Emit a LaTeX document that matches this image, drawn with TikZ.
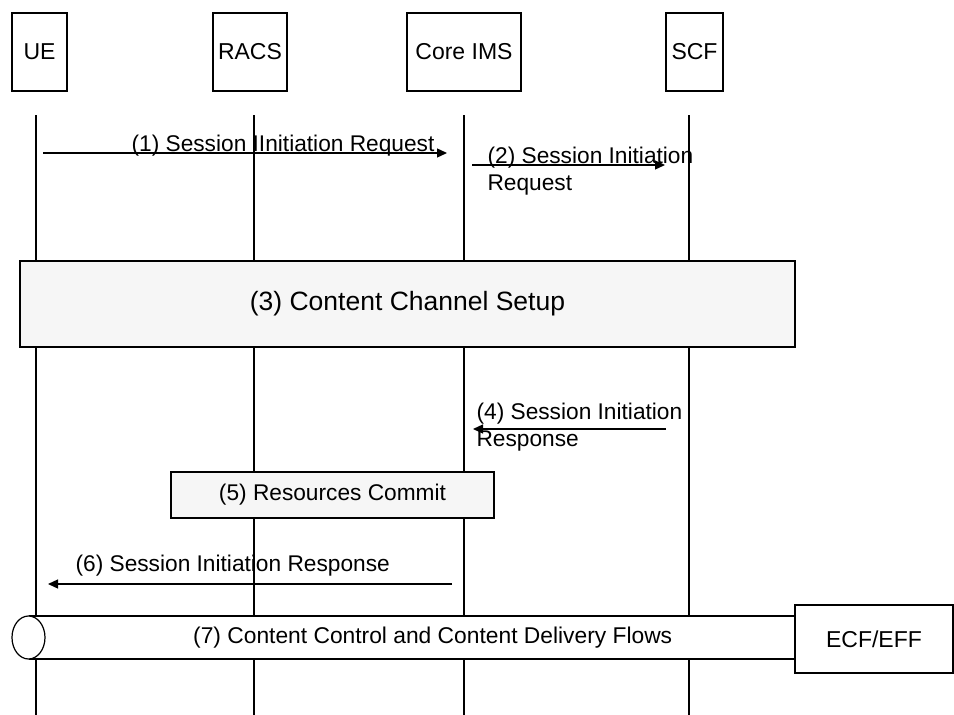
\documentclass[tikz,border=0pt]{standalone}
\usepackage{fontspec}
\setmainfont{Liberation Sans}
\usetikzlibrary{arrows.meta}
\definecolor{boxgray}{HTML}{F6F6F6}
\begin{document}
\begin{tikzpicture}[x=1pt,y=-1pt,
  line width=1.2pt,
  entity/.style={draw, fill=white, inner sep=0pt, font=\fontsize{23}{27}\selectfont},
  life/.style={line width=1.2pt},
  msg/.style={-{Triangle[length=10pt,width=9pt]}, line width=1.3pt},
  lbl/.style={inner sep=0pt, anchor=base west, font=\fontsize{22.7}{27}\selectfont, align=left},
  stepbox/.style={draw, fill=boxgray, inner sep=0pt},
]
\useasboundingbox (0,0) rectangle (954,715);

% lifelines
\coordinate (ueT) at (36,115);   \coordinate (ueB) at (36,715);
\coordinate (raT) at (254,115);  \coordinate (raB) at (254,715);
\coordinate (imT) at (464,115);  \coordinate (imB) at (464,715);
\coordinate (scT) at (689,115);  \coordinate (scB) at (689,715);
\draw[life] (ueT) -- (ueB);
\draw[life] (raT) -- (raB);
\draw[life] (imT) -- (imB);
\draw[life] (scT) -- (scB);

% entities
\node[entity, minimum width=55pt, minimum height=78pt] (ue) at (39.5,52) {UE};
\node[entity, minimum width=74pt, minimum height=78pt] (racs) at (250,52) {RACS};
\node[entity, minimum width=114pt, minimum height=78pt] (ims) at (464,52) {Core IMS};
\node[entity, minimum width=57pt, minimum height=78pt] (scf) at (694.5,52) {SCF};

% (1)
\coordinate (m1s) at (43,153); \coordinate (m1e) at (447,153);
\draw[msg] (m1s) -- (m1e);
\node[lbl] (l1) at (131,151) {(1) Session IInitiation Request};

% (2)
\coordinate (m2s) at (472,165); \coordinate (m2e) at (665,165);
\draw[msg] (m2s) -- (m2e);
\node[lbl] (l2) at (487,190) {(2) Session Initiation\\Request};

% (3)
\node[stepbox, minimum width=775pt, minimum height=86pt,
      font=\fontsize{26.5}{30}\selectfont] (s3) at (407.5,304) {(3) Content Channel Setup};

% (4)
\coordinate (m4s) at (666,429); \coordinate (m4e) at (473,429);
\draw[msg] (m4s) -- (m4e);
\node[lbl] (l4) at (476,446) {(4) Session Initiation\\Response};

% (5)
\node[stepbox, minimum width=323pt, minimum height=46pt,
      font=\fontsize{22.7}{27}\selectfont] (s5) at (332.5,495) {(5) Resources Commit};

% (6)
\coordinate (m6s) at (452,584); \coordinate (m6e) at (48,584);
\draw[msg] (m6s) -- (m6e);
\node[lbl] (l6) at (75,571) {(6) Session Initiation Response};

% (7) pipe
\fill[white] (28.5,616) rectangle (795,659);
\draw (28.5,616) -- (795,616);
\draw (28.5,659) -- (795,659);
\draw[fill=white] (28.5,637.5) ellipse [x radius=16.5pt, y radius=21.5pt];
\node[inner sep=0pt, font=\fontsize{22.8}{27}\selectfont] (s7) at (432.7,638) {(7) Content Control and Content Delivery Flows};

% ECF/EFF
\node[entity, minimum width=158pt, minimum height=68pt] (ecf) at (874,639) {ECF/EFF};
\end{tikzpicture}
\end{document}
